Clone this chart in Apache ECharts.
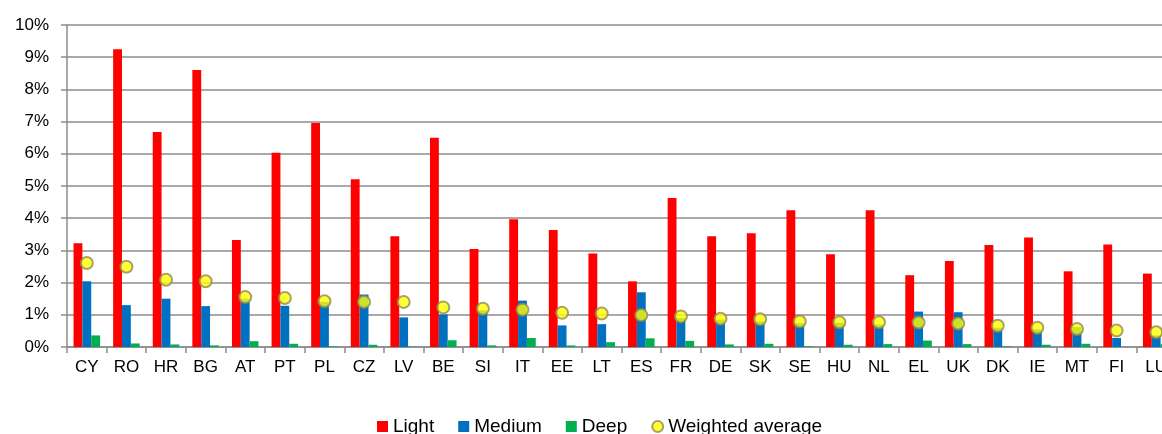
<!DOCTYPE html>
<html>
<head>
<meta charset="utf-8">
<script src="https://cdn.jsdelivr.net/npm/echarts@6/dist/echarts.min.js"></script>
<style>
  html, body { margin: 0; padding: 0; background: #fff; overflow: hidden; }
  /* the original plot runs past the right edge, so the canvas is a bit wider than the window */
  #chart { width: 1176px; height: 434px; }
</style>
</head>
<body>
<div id="chart"></div>
<script>
var countries = ['CY','RO','HR','BG','AT','PT','PL','CZ','LV','BE','SI','IT','EE','LT','ES','FR','DE','SK','SE','HU','NL','EL','UK','DK','IE','MT','FI','LU'];

// values in %
var light  = [3.22, 9.25, 6.68, 8.60, 3.32, 6.03, 6.96, 5.21, 3.44, 6.50, 3.04, 3.97, 3.63, 2.90, 2.04, 4.63, 3.44, 3.53, 4.25, 2.88, 4.25, 2.23, 2.67, 3.17, 3.40, 2.35, 3.18, 2.28];
var medium = [2.04, 1.30, 1.50, 1.27, 1.50, 1.28, 1.40, 1.63, 0.92, 1.01, 1.14, 1.44, 0.67, 0.71, 1.70, 0.90, 0.85, 0.80, 0.74, 0.75, 0.70, 1.10, 1.08, 0.60, 0.55, 0.62, 0.28, 0.36];
var deep   = [0.36, 0.11, 0.08, 0.05, 0.18, 0.10, 0.02, 0.07, 0.01, 0.21, 0.05, 0.28, 0.05, 0.15, 0.27, 0.19, 0.08, 0.10, 0.02, 0.07, 0.09, 0.20, 0.09, 0.02, 0.07, 0.10, 0.00, 0.09];
var weighted = [2.61, 2.49, 2.09, 2.04, 1.55, 1.52, 1.42, 1.40, 1.40, 1.23, 1.19, 1.16, 1.06, 1.04, 0.99, 0.95, 0.88, 0.86, 0.79, 0.77, 0.77, 0.76, 0.73, 0.66, 0.60, 0.56, 0.51, 0.46];

var yTicks = [0, 1, 2, 3, 4, 5, 6, 7, 8, 9, 10];

var FONT = 'Liberation Sans';
var GRID_COLOR = '#8c8c8c';

var myChart = echarts.init(document.getElementById('chart'));

var option = {
	animation: false,
	textStyle: { fontFamily: FONT },
	legend: {
		left: 372,
		top: 412,
		itemWidth: 11,
		itemHeight: 11,
		itemGap: 24,
		textStyle: { fontFamily: FONT, fontSize: 19, color: '#000' },
		data: [
			{ name: 'Light', icon: 'rect' },
			{ name: 'Medium', icon: 'rect' },
			{ name: 'Deep', icon: 'rect' },
			{ name: 'Weighted average', icon: 'circle' }
		]
	},
	grid: {
		left: 67,
		top: 25,
		bottom: 87,
		right: 0
	},
	xAxis: {
		type: 'category',
		data: countries,
		axisLine: { lineStyle: { color: GRID_COLOR, width: 1.5 } },
		axisTick: { show: true, length: 6, lineStyle: { color: GRID_COLOR, width: 1.5 } },
		axisLabel: { color: '#000', fontSize: 17, fontFamily: FONT, margin: 12, interval: 0 }
	},
	yAxis: {
		type: 'value',
		min: yTicks[0],
		max: yTicks[yTicks.length - 1],
		interval: 1,
		axisLine: { show: true, lineStyle: { color: GRID_COLOR, width: 1.5 } },
		axisTick: { show: true, length: 6, lineStyle: { color: GRID_COLOR, width: 1.5 } },
		splitLine: { lineStyle: { color: GRID_COLOR, width: 1.5 } },
		axisLabel: { color: '#000', fontSize: 17, fontFamily: FONT, margin: 18, formatter: '{value}%' }
	},
	series: [
		{
			name: 'Light',
			type: 'bar',
			data: light,
			barGap: '0%',
			barCategoryGap: '33%',
			itemStyle: { color: '#ff0000' }
		},
		{
			name: 'Medium',
			type: 'bar',
			data: medium,
			barGap: '0%',
			barCategoryGap: '33%',
			itemStyle: { color: '#0070c0' }
		},
		{
			name: 'Deep',
			type: 'bar',
			data: deep,
			barGap: '0%',
			barCategoryGap: '33%',
			itemStyle: { color: '#00b050' }
		},
		{
			name: 'Weighted average',
			type: 'scatter',
			data: weighted,
			symbol: 'circle',
			symbolSize: 12,
			z: 5,
			itemStyle: { color: '#ffff00', borderColor: '#938953', borderWidth: 2 }
		}
	]
};

myChart.setOption(option);
</script>
</body>
</html>
